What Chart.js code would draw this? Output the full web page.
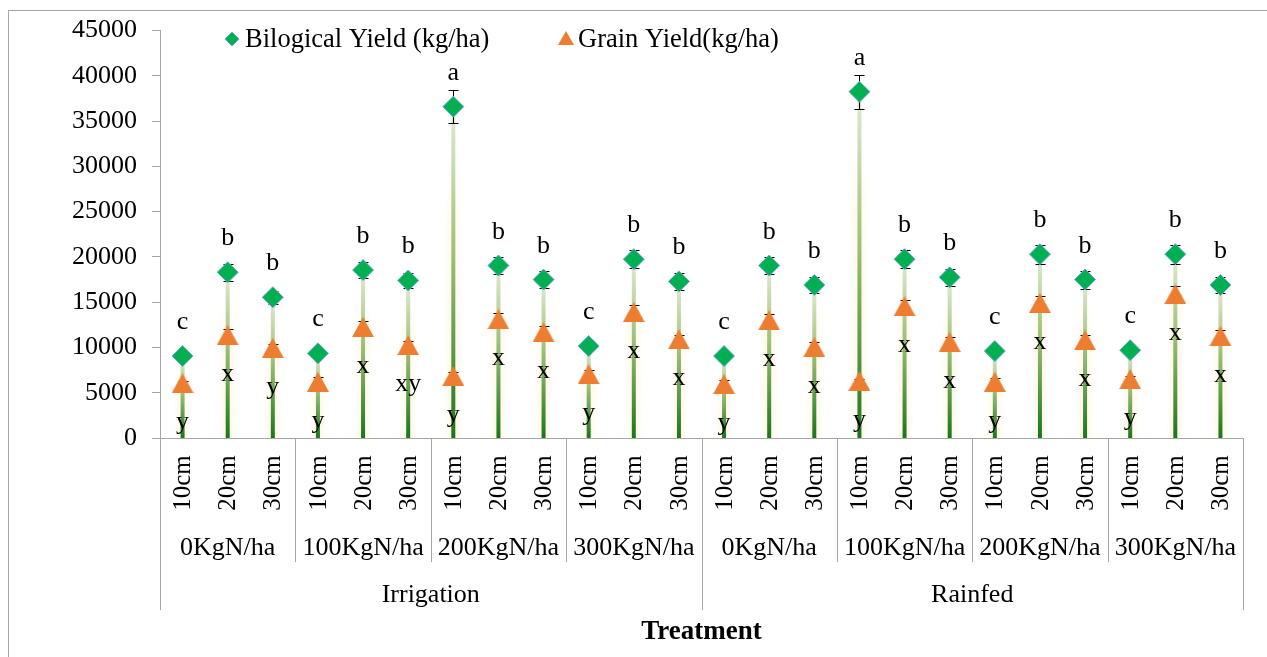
<!DOCTYPE html>
<html>
<head>
<meta charset="utf-8">
<script src="https://cdn.jsdelivr.net/npm/chart.js@4.4.1/dist/chart.umd.min.js"></script>
<style>
  html, body { margin: 0; padding: 0; background: #fff; }
  #wrap { position: relative; width: 1267px; height: 657px; }
</style>
</head>
<body>
<div id="wrap"><canvas id="yieldChart" width="1267" height="657"></canvas></div>
<script>
// Data
const depths = ['10cm', '20cm', '30cm'];
const nLevels = ['0KgN/ha', '100KgN/ha', '200KgN/ha', '300KgN/ha'];
const waterRegimes = ['Irrigation', 'Rainfed'];

const bioYield = [9050, 18300, 15550, 9350, 18550, 17400, 36600, 19050, 17500, 10150, 19750, 17300,
                  9050, 19050, 16900, 38250, 19750, 17750, 9600, 20300, 17500, 9700, 20300, 16900];
const bioErr   = [400, 940, 700, 400, 920, 880, 1850, 950, 970, 400, 970, 940,
                  400, 950, 920, 1900, 1000, 920, 400, 1060, 1000, 400, 1060, 920];
const grainYield = [6050, 11350, 9950, 6200, 12250, 10250, 6850, 13100, 11700, 7050, 13900, 10900,
                    5950, 13000, 10050, 6300, 14550, 10600, 6200, 14900, 10800, 6500, 15900, 11250];
const grainErr   = [300, 730, 480, 550, 660, 480, 400, 740, 660, 480, 740, 440,
                    440, 660, 510, 200, 740, 550, 400, 810, 620, 300, 850, 700];

const bioLetters = ['c', 'b', 'b', 'c', 'b', 'b', 'a', 'b', 'b', 'c', 'b', 'b',
                    'c', 'b', 'b', 'a', 'b', 'b', 'c', 'b', 'b', 'c', 'b', 'b'];
const grainLetters = ['y', 'x', 'y', 'y', 'x', 'xy', 'y', 'x', 'x', 'y', 'x', 'x',
                      'y', 'x', 'x', 'y', 'x', 'x', 'y', 'x', 'x', 'y', 'x', 'x'];

const yMax = 45000;
const yStep = 5000;

const categories = waterRegimes.flatMap(() => nLevels.flatMap(() => depths));

const SERIF = "'Liberation Serif', 'Times New Roman', serif";
const GREEN = '#00b050';
const ORANGE = '#ed7d31';
const AXIS_GREY = '#a6a6a6';

// triangle marker centred on its bounding box (like Excel)
function makeTriangle(w, h, color) {
    const c = document.createElement('canvas');
    c.width = w;
    c.height = h;
    const g = c.getContext('2d');
    g.fillStyle = color;
    g.beginPath();
    g.moveTo(w / 2, 0);
    g.lineTo(w, h);
    g.lineTo(0, h);
    g.closePath();
    g.fill();
    return c;
}

function errorBar(ctx, px, yTop, yBot, cap) {
    ctx.beginPath();
    ctx.moveTo(px, yTop); ctx.lineTo(px, yBot);
    ctx.moveTo(px - cap, yTop); ctx.lineTo(px + cap, yTop);
    ctx.moveTo(px - cap, yBot); ctx.lineTo(px + cap, yBot);
    ctx.stroke();
}

const decorations = {
    id: 'decorations',
    beforeDatasetsDraw(chart) {
        const { ctx, scales: { x, y } } = chart;
        const y0 = y.getPixelForValue(0);

        bioYield.forEach((v, i) => {
            const px = x.getPixelForValue(i);
            const top = y.getPixelForValue(v);

            // faint yellow glow behind the drop line
            const glowTop = y.getPixelForValue(v * 0.83);
            const gg = ctx.createLinearGradient(0, glowTop, 0, y0);
            gg.addColorStop(0, 'rgba(255,225,150,0)');
            gg.addColorStop(0.2, 'rgba(255,225,150,0.18)');
            gg.addColorStop(1, 'rgba(255,225,150,0.22)');
            ctx.save();
            ctx.filter = 'blur(2px)';
            ctx.fillStyle = gg;
            ctx.fillRect(px - 6, glowTop, 12, y0 - glowTop);
            ctx.restore();

            // gradient drop line
            const lg = ctx.createLinearGradient(0, top, 0, y0);
            lg.addColorStop(0, '#e2ecd4');
            lg.addColorStop(0.45, '#9dbf78');
            lg.addColorStop(1, '#1a761a');
            ctx.fillStyle = lg;
            ctx.fillRect(px - 2, top, 4, y0 - top);
        });

        // error bars
        ctx.save();
        ctx.strokeStyle = '#000';
        ctx.lineWidth = 1;
        bioYield.forEach((v, i) => {
            const px = Math.round(x.getPixelForValue(i)) + 0.5;
            errorBar(ctx, px, Math.round(y.getPixelForValue(v + bioErr[i])) + 0.5,
                Math.round(y.getPixelForValue(v - bioErr[i])) + 0.5, 5);
        });
        grainYield.forEach((v, i) => {
            const px = Math.round(x.getPixelForValue(i)) + 0.5;
            errorBar(ctx, px, Math.round(y.getPixelForValue(v + grainErr[i])) + 0.5,
                Math.round(y.getPixelForValue(v - grainErr[i])) + 0.5, 5);
        });
        ctx.restore();
    },
    afterDraw(chart) {
        const { ctx, chartArea, scales: { x, y } } = chart;
        const slot = x.getPixelForValue(1) - x.getPixelForValue(0);
        const edge = k => Math.round(chartArea.left + k * slot) + 0.5;
        const axisY = chartArea.bottom;

        ctx.save();
        ctx.fillStyle = '#000';
        ctx.font = `26px ${SERIF}`;
        ctx.textAlign = 'center';
        ctx.textBaseline = 'alphabetic';

        // significance letters
        bioYield.forEach((v, i) => {
            ctx.fillText(bioLetters[i], x.getPixelForValue(i), y.getPixelForValue(v) - 27);
        });
        grainYield.forEach((v, i) => {
            ctx.fillText(grainLetters[i], x.getPixelForValue(i), y.getPixelForValue(v) + 46);
        });

        // depth labels (rotated)
        ctx.font = `25px ${SERIF}`;
        ctx.textBaseline = 'middle';
        categories.forEach((lab, i) => {
            ctx.save();
            ctx.translate(x.getPixelForValue(i), 483);
            ctx.rotate(-Math.PI / 2);
            ctx.fillText(lab, 0, 1);
            ctx.restore();
        });

        // nitrogen levels and water regime
        ctx.font = `26px ${SERIF}`;
        const perRegime = nLevels.length * depths.length;
        waterRegimes.forEach((w, r) => {
            nLevels.forEach((n, j) => {
                const first = r * perRegime + j * depths.length;
                const cx = (x.getPixelForValue(first) + x.getPixelForValue(first + depths.length - 1)) / 2;
                ctx.fillText(n, cx, 548);
            });
            const a = r * perRegime;
            const cx = (x.getPixelForValue(a) + x.getPixelForValue(a + perRegime - 1)) / 2;
            ctx.fillText(w, cx, 595);
        });

        // axis title
        ctx.font = `bold 27px ${SERIF}`;
        ctx.fillText('Treatment', (chartArea.left + chartArea.right) / 2, 632);

        // category separators
        ctx.strokeStyle = AXIS_GREY;
        ctx.lineWidth = 1;
        ctx.beginPath();
        for (let k = 0; k <= categories.length; k += depths.length) {
            const bottom = (k % perRegime === 0) ? 610 : 562;
            ctx.moveTo(edge(k), axisY);
            ctx.lineTo(edge(k), bottom);
        }
        ctx.stroke();

        // legend
        ctx.font = `26.5px ${SERIF}`;
        ctx.textAlign = 'left';
        ctx.fillStyle = GREEN;
        ctx.strokeStyle = '#6fa8dc';
        ctx.beginPath();
        ctx.moveTo(232, 32); ctx.lineTo(239, 39); ctx.lineTo(232, 46); ctx.lineTo(225, 39);
        ctx.closePath();
        ctx.fill();
        ctx.stroke();
        ctx.fillStyle = '#000';
        ctx.fillText('Bilogical Yield (kg/ha)', 245, 40);
        ctx.fillStyle = ORANGE;
        ctx.beginPath();
        ctx.moveTo(566, 31); ctx.lineTo(574, 45); ctx.lineTo(558, 45);
        ctx.closePath();
        ctx.fill();
        ctx.fillStyle = '#000';
        ctx.fillText('Grain Yield(kg/ha)', 578, 40);

        // outer frame
        ctx.strokeStyle = AXIS_GREY;
        ctx.strokeRect(8.5, 10.5, 1300, 700);
        ctx.restore();
    }
};

const ctx = document.getElementById('yieldChart').getContext('2d');
const yieldChart = new Chart(ctx, {
    type: 'line',
    data: {
        labels: categories,
        datasets: [{
            label: 'Bilogical Yield (kg/ha)',
            data: bioYield,
            showLine: false,
            pointStyle: 'rectRot',
            pointRadius: 10.5,
            pointBackgroundColor: GREEN,
            pointBorderColor: '#6fa8dc',
            pointBorderWidth: 1
        }, {
            label: 'Grain Yield(kg/ha)',
            data: grainYield,
            showLine: false,
            pointStyle: makeTriangle(22, 20, ORANGE),
            pointRadius: 10
        }]
    },
    options: {
        responsive: false,
        devicePixelRatio: 1,
        animation: false,
        layout: { padding: { left: 0, top: 30, right: 24, bottom: 0 } },
        plugins: {
            legend: { display: false },
            tooltip: { enabled: false }
        },
        scales: {
            x: {
                offset: true,
                ticks: { display: false },
                grid: { display: false },
                border: { display: true, color: AXIS_GREY },
                afterFit: s => { s.height = 219; }
            },
            y: {
                min: 0,
                max: yMax,
                ticks: {
                    stepSize: yStep,
                    color: '#000',
                    padding: 15,
                    font: { family: SERIF, size: 26 },
                    callback: v => String(v)
                },
                grid: { drawOnChartArea: false, drawTicks: true, tickLength: 8, color: AXIS_GREY },
                border: { display: true, color: AXIS_GREY },
                afterFit: s => { s.width = 160; }
            }
        }
    },
    plugins: [decorations]
});
</script>
</body>
</html>
